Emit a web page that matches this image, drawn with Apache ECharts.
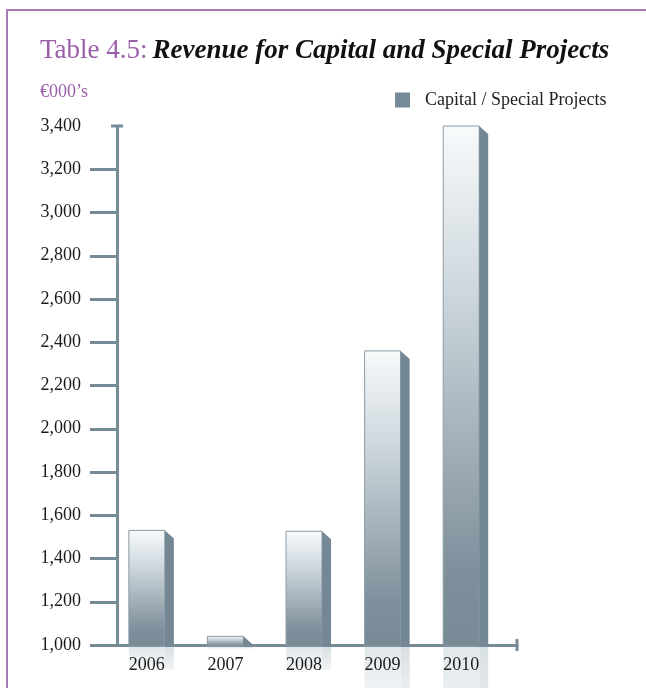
<!DOCTYPE html>
<html>
<head>
<meta charset="utf-8">
<script src="https://cdn.jsdelivr.net/npm/echarts@6/dist/echarts.min.js"></script>
<style>
  html, body { margin: 0; padding: 0; background: #fff; }
  #frame { position: absolute; left: 6px; top: 9px; width: 700px; height: 700px; border: 2px solid #a77bb8; }
  #chart { position: absolute; left: 0; top: 0; width: 646px; height: 688px; }
</style>
</head>
<body>
<div id="frame"></div>
<div id="chart"></div>
<script>
// Revenue for Capital and Special Projects (€000's)
const years = [2006, 2007, 2008, 2009, 2010];
const revenue = [1530, 1040, 1526, 2360, 3400];
const seriesName = 'Capital / Special Projects';
const yMin = 1000;
const yMax = 3400;
const yStep = 200;
const yTickValues = [1000, 1200, 1400, 1600, 1800, 2000, 2200, 2400, 2600, 2800, 3000, 3200];

const axisColor = '#768a97';
const font = 'Liberation Serif';

const myChart = echarts.init(document.getElementById('chart'));

// front face + side face of each bar
function renderBar(params, api) {
  const x = api.value(0);
  const v = api.value(1);
  const top = api.coord([x, v]);
  const base = api.coord([x, yMin]);
  const cx = top[0], ty = top[1], by = base[1] + 1;
  const fw = 36, sw = 9;
  const fx = cx - fw / 2;
  return {
    type: 'group',
    children: [
      {
        type: 'rect',
        shape: { x: fx, y: ty, width: fw, height: by - ty },
        style: {
          fill: new echarts.graphic.LinearGradient(0, 0, 0, 1, [
            { offset: 0, color: '#f8fafb' },
            { offset: 0.3, color: '#d0d9df' },
            { offset: 0.6, color: '#a4b1ba' },
            { offset: 0.85, color: '#7f909c' },
            { offset: 1, color: '#778a96' }
          ]),
          stroke: '#8b9ca7',
          lineWidth: 1
        }
      },
      {
        type: 'polygon',
        shape: {
          points: [[fx + fw, ty], [fx + fw + sw, ty + sw - 1], [fx + fw + sw, by], [fx + fw, by]]
        },
        style: { fill: '#748794' }
      }
    ]
  };
}

// faint reflection under the axis
function renderReflection(params, api) {
  const x = api.value(0);
  const v = api.value(1);
  const top = api.coord([x, v]);
  const base = api.coord([x, yMin]);
  const cx = top[0], by = base[1] + 2;
  const h = (base[1] - top[1]) * 0.2;
  const fw = 36, sw = 9;
  const fx = cx - fw / 2;
  return {
    type: 'group',
    children: [
      {
        type: 'rect',
        shape: { x: fx, y: by, width: fw, height: h },
        style: {
          fill: new echarts.graphic.LinearGradient(0, 0, 0, 1, [
            { offset: 0, color: '#e2e8eb' },
            { offset: 1, color: '#f5f7f8' }
          ])
        }
      },
      {
        type: 'rect',
        shape: { x: fx + fw, y: by, width: sw, height: h },
        style: {
          fill: new echarts.graphic.LinearGradient(0, 0, 0, 1, [
            { offset: 0, color: '#d8dfe3' },
            { offset: 1, color: '#f1f4f5' }
          ])
        }
      }
    ]
  };
}

const barData = years.map((y, i) => [y, revenue[i]]);

const option = {
  animation: false,
  title: [
    {
      text: '{a|Table 4.5:} {b|Revenue for Capital and Special Projects}',
      left: 40,
      top: 36,
      padding: 0,
      textStyle: {
        rich: {
          a: { color: '#9b5fa9', fontSize: 27, fontFamily: font, fontWeight: 'normal', lineHeight: 30 },
          b: { color: '#111', fontSize: 27, fontFamily: font, fontStyle: 'italic', fontWeight: 'bold', lineHeight: 30 }
        }
      }
    },
    {
      text: '€000’s',
      left: 40,
      top: 83,
      padding: 0,
      textStyle: { color: '#9b5fa9', fontSize: 18, fontFamily: font, fontWeight: 'normal' }
    }
  ],
  legend: {
    data: [seriesName],
    left: 395,
    top: 91,
    padding: 0,
    icon: 'rect',
    itemWidth: 15,
    itemHeight: 15,
    textStyle: { color: '#222', fontSize: 18, fontFamily: font, padding: [0, 0, 0, 10] }
  },
  grid: {
    left: 117,
    right: 129,
    top: 126,
    bottom: 43
  },
  xAxis: {
    type: 'value',
    min: 2005.62,
    max: 2010.71,
    z: 2,
    splitLine: { show: false },
    axisTick: { show: false },
    axisLine: {
      show: true,
      symbol: ['none', 'rect'],
      symbolSize: [12, 3],
      lineStyle: { color: axisColor, width: 3 }
    },
    axisLabel: {
      customValues: years,
      formatter: v => String(v),
      margin: 11,
      color: '#1a1a1a',
      fontSize: 18,
      fontFamily: font
    }
  },
  yAxis: {
    type: 'value',
    min: yMin,
    max: yMax,
    interval: yStep,
    z: 2,
    splitLine: { show: false },
    axisLine: {
      show: true,
      symbol: ['none', 'rect'],
      symbolSize: [12, 3],
      lineStyle: { color: axisColor, width: 3 }
    },
    axisTick: {
      show: true,
      length: 27,
      customValues: yTickValues,
      lineStyle: { color: axisColor, width: 3 }
    },
    axisLabel: {
      margin: 36,
      color: '#1a1a1a',
      fontSize: 18,
      fontFamily: font,
      formatter: v => v.toLocaleString('en-US')
    }
  },
  series: [
    {
      name: 'reflection',
      type: 'custom',
      z: 1,
      clip: false,
      silent: true,
      renderItem: renderReflection,
      data: barData
    },
    {
      name: seriesName,
      type: 'custom',
      z: 3,
      clip: false,
      itemStyle: { color: axisColor },
      renderItem: renderBar,
      data: barData
    }
  ]
};

myChart.setOption(option);
</script>
</body>
</html>
